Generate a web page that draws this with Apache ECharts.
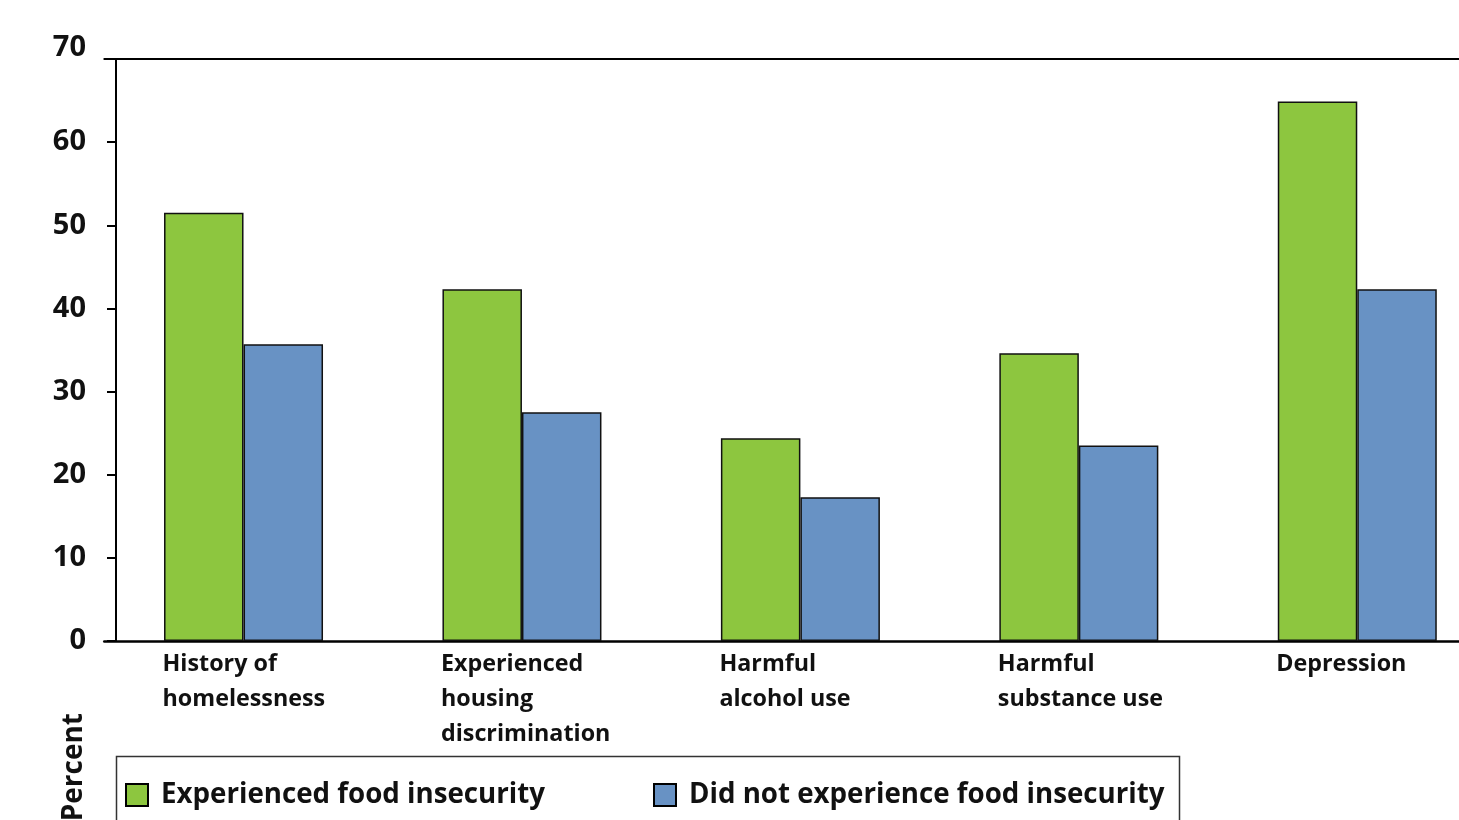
<!DOCTYPE html>
<html>
<head>
<meta charset="utf-8">
<title>Food insecurity and related outcomes</title>
<script src="https://cdn.jsdelivr.net/npm/echarts@6/dist/echarts.min.js"></script>
<style>
  html, body { margin: 0; padding: 0; background: #fff; }
  #chart { width: 1459px; height: 820px; }
</style>
</head>
<body>
<div id="chart"></div>
<script>
// Outcome categories along the x axis
var categories = [
  'History of\nhomelessness',
  'Experienced\nhousing\ndiscrimination',
  'Harmful\nalcohol use',
  'Harmful\nsubstance use',
  'Depression'
];

// Percent of respondents in each group
var insecureValues = [51.5, 42.3, 24.4, 34.6, 64.9];
var secureValues = [35.7, 27.5, 17.3, 23.5, 42.3];

var seriesNames = ['Experienced food insecurity', 'Did not experience food insecurity'];
var yAxisName = 'Percent';

var FONT = '"Open Sans", "Noto Sans", sans-serif';
var GREEN = '#8DC63F';
var BLUE = '#6892C4';

var chart = echarts.init(document.getElementById('chart'));

chart.setOption({
  animation: false,
  backgroundColor: '#fff',
  textStyle: { fontFamily: FONT },
  grid: {
    left: 104.3,
    top: 59,
    width: 1392.2,
    height: 582,
    outerBoundsMode: 'none'
  },
  xAxis: [
    {
      type: 'category',
      data: categories,
      position: 'bottom',
      axisLine: { lineStyle: { color: '#000', width: 2.6 } },
      axisTick: { show: false },
      axisLabel: {
        interval: 0,
        margin: 6,
        align: 'center',
        formatter: function (v) { return '{c|' + v + '}'; },
        rich: {
          c: {
            width: 162,
            align: 'left',
            fontFamily: FONT,
            fontSize: 23.3,
            fontWeight: 'bold',
            color: '#111',
            lineHeight: 35
          }
        }
      }
    },
    {
      // frame line along the top of the plot
      type: 'category',
      data: categories,
      position: 'top',
      axisLine: { lineStyle: { color: '#000', width: 2 } },
      axisTick: { show: false },
      axisLabel: { show: false }
    }
  ],
  yAxis: {
    type: 'value',
    min: 0,
    max: 70,
    interval: 10,
    offset: -11.7,
    axisLine: { show: true, lineStyle: { color: '#000', width: 2 } },
    axisTick: { show: true, inside: false, length: 9, lineStyle: { color: '#000', width: 2 } },
    splitLine: { show: false },
    axisLabel: {
      margin: 30,
      fontFamily: FONT,
      fontSize: 29,
      fontWeight: 'bold',
      color: '#111',
      formatter: function (v) {
        return v === 70 ? '{t|' + v + '}' : '{n|' + v + '}';
      },
      rich: {
        n: { fontFamily: FONT, fontSize: 29, fontWeight: 'bold', color: '#111' },
        t: { fontFamily: FONT, fontSize: 29, fontWeight: 'bold', color: '#111', padding: [0, 0, 22, 0] }
      }
    }
  },
  legend: [
    {
      data: [seriesNames[0]],
      left: 125,
      top: 781,
      padding: 0,
      icon: 'rect',
      itemWidth: 22,
      itemHeight: 22,
      itemGap: 0,
      itemStyle: { borderColor: '#000', borderWidth: 2 },
      textStyle: { fontFamily: FONT, fontSize: 27.7, fontWeight: 'bold', color: '#111', padding: [0, 0, 0, 8] },
      selectedMode: false
    },
    {
      data: [seriesNames[1]],
      left: 653,
      top: 781,
      padding: 0,
      icon: 'rect',
      itemWidth: 22,
      itemHeight: 22,
      itemGap: 0,
      itemStyle: { borderColor: '#000', borderWidth: 2 },
      textStyle: { fontFamily: FONT, fontSize: 27.7, fontWeight: 'bold', color: '#111', padding: [0, 0, 0, 8] },
      selectedMode: false
    }
  ],
  graphic: [
    {
      type: 'rect',
      z: -1,
      shape: { x: 116.5, y: 756.5, width: 1063, height: 120 },
      style: { fill: 'none', stroke: '#333', lineWidth: 1.5 }
    },
    {
      type: 'text',
      x: 74,
      y: 713,
      rotation: Math.PI / 2,
      style: {
        text: yAxisName,
        fontFamily: FONT,
        fontSize: 28,
        fontWeight: 'bold',
        fill: '#111',
        align: 'right',
        verticalAlign: 'middle'
      }
    }
  ],
  series: [
    {
      name: seriesNames[0],
      type: 'bar',
      xAxisIndex: 0,
      data: insecureValues,
      barWidth: 79.5,
      barGap: '0%',
      itemStyle: { color: GREEN, borderColor: '#111', borderWidth: 1.5 }
    },
    {
      name: seriesNames[1],
      type: 'bar',
      xAxisIndex: 0,
      data: secureValues,
      barWidth: 79.5,
      barGap: '0%',
      itemStyle: { color: BLUE, borderColor: '#111', borderWidth: 1.5 }
    }
  ]
});
</script>
</body>
</html>
